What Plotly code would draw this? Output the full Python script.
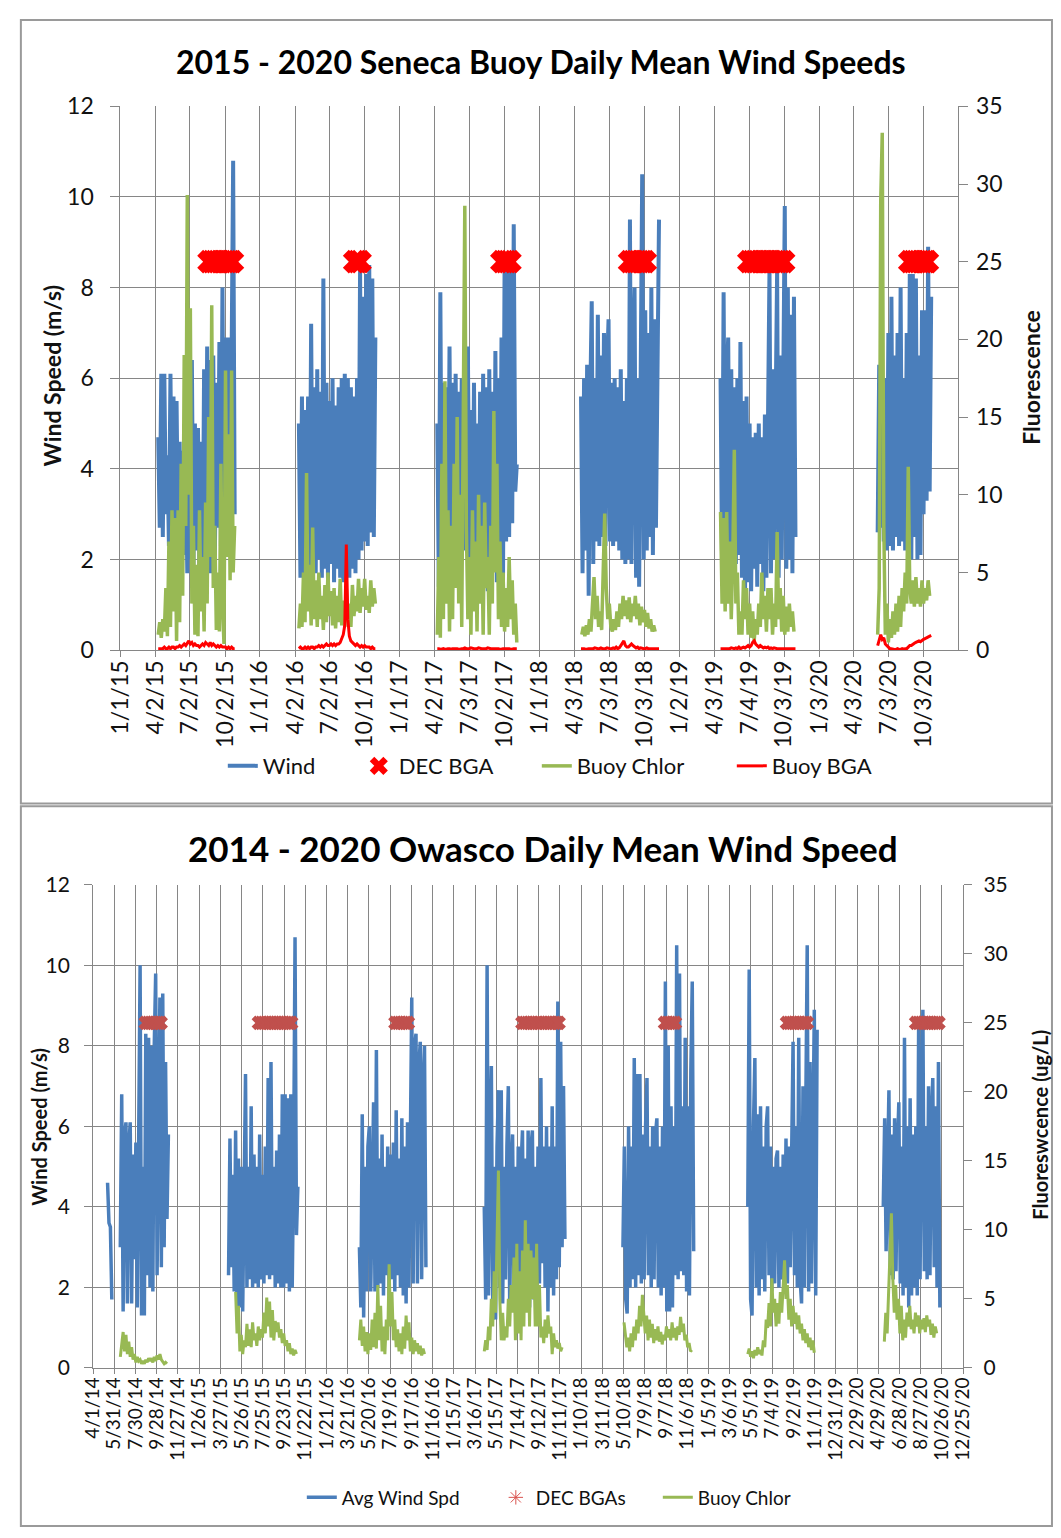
import pandas as pd
import plotly.graph_objects as go

STEP_DAYS = 4  # sampling step of the series below

# ---------------- Seneca (top chart) ----------------
SEN_TICK_LABELS = ['1/1/15', '4/2/15', '7/2/15', '10/2/15', '1/1/16', '4/2/16', '7/2/16', '10/1/16',
                   '1/1/17', '4/2/17', '7/3/17', '10/2/17', '1/1/18', '4/3/18', '7/3/18', '10/3/18',
                   '1/2/19', '4/3/19', '7/4/19', '10/3/19', '1/3/20', '4/3/20', '7/3/20', '10/3/20']

SEN_WIND_2015 = [4.7, 2.7, 6.1, 2.5, 6.1, 3.0, 4.3, 2.3, 6.1, 2.4, 5.6, 2.0, 5.5, 2.3, 4.6, 1.8, 4.4, 2.1,
                 4.4, 1.7, 6.4, 2.0, 6.4, 1.8, 5.0, 2.2, 4.9, 1.6, 4.6, 1.5, 6.2, 1.9, 6.7, 1.7, 6.4, 1.7,
                 6.5, 1.8, 5.9, 2.7, 6.8, 2.3, 8.0, 2.6, 6.9, 2.2, 6.9, 2.8, 6.5, 10.8, 3.0]
SEN_WIND_2016 = [5.0, 1.6, 5.6, 1.7, 5.3, 2.0, 5.6, 1.8, 7.2, 1.9, 5.8, 1.7, 6.2, 2.0, 5.7, 1.6, 8.2, 1.8,
                 5.9, 1.6, 5.5, 1.9, 6.0, 1.5, 5.4, 1.8, 5.8, 1.6, 6.0, 1.5, 6.1, 1.7, 6.0, 1.6, 5.8, 1.8,
                 5.6, 1.7, 6.0, 2.0, 8.4, 2.2, 7.8, 2.4, 8.3, 2.3, 8.5, 2.6, 8.2, 2.5, 6.9]
SEN_WIND_2017 = [5.0, 1.4, 7.9, 1.6, 5.9, 2.6, 5.8, 1.9, 6.7, 2.3, 5.9, 2.5, 6.1, 2.0, 5.7, 2.6, 6.0, 2.2,
                 5.8, 2.4, 6.7, 2.0, 5.3, 1.8, 5.9, 2.1, 5.0, 1.8, 5.7, 2.0, 6.1, 1.6, 5.8, 1.3, 6.2, 2.4,
                 5.7, 1.9, 6.6, 1.5, 6.0, 2.2, 6.9, 1.7, 8.4, 2.4, 8.5, 2.5, 8.6, 2.8, 9.4, 3.5, 4.1]
SEN_WIND_2018 = [5.6, 1.7, 6.0, 2.2, 6.3, 1.2, 5.5, 7.7, 1.9, 6.0, 2.4, 7.4, 2.3, 6.5, 2.5, 7.0, 2.3, 6.2,
                 7.3, 2.4, 5.9, 2.3, 6.0, 2.4, 5.8, 2.2, 6.2, 2.0, 5.5, 1.9, 6.0, 2.0, 9.5, 1.9, 6.5, 8.0,
                 1.6, 6.0, 1.4, 7.0, 10.5, 2.0, 7.5, 2.2, 7.0, 2.5, 8.0, 2.1, 7.3, 2.7, 6.5, 9.5]
SEN_WIND_2019 = [6.0, 1.9, 7.9, 2.2, 6.0, 6.9, 1.8, 6.2, 2.0, 5.8, 1.9, 6.0, 2.1, 6.8, 1.6, 5.5, 1.2, 5.6,
                 1.5, 5.0, 1.3, 4.7, 1.8, 4.8, 1.4, 5.0, 1.9, 4.7, 1.3, 5.2, 1.6, 4.9, 8.4, 1.7, 6.2, 2.0,
                 5.8, 8.4, 1.6, 6.5, 2.0, 7.0, 9.8, 1.8, 8.0, 2.0, 7.4, 1.7, 7.8, 2.5]
SEN_WIND_2020 = [2.6, 6.3, 2.7, 5.0, 2.4, 6.0, 2.2, 7.0, 2.3, 7.8, 2.2, 6.5, 2.5, 7.0, 2.3, 8.0, 2.4, 6.0,
                 2.2, 7.0, 2.3, 8.3, 2.0, 8.3, 2.5, 8.2, 2.0, 6.5, 2.1, 7.5, 3.0, 7.5, 3.3, 8.9, 3.5, 7.8]

SEN_CHLOR_2015 = [1.0, 1.8, 0.8, 2.0, 1.2, 4.0, 0.9, 7.0, 1.5, 9.0, 2.5, 8.5, 0.6, 9.0, 1.8, 12.0, 3.5,
                  19.0, 8.0, 29.3, 10.0, 22.0, 3.0, 8.0, 1.0, 5.5, 0.9, 9.0, 2.5, 6.0, 1.2, 9.5, 3.0, 15.0,
                  6.0, 22.2, 4.0, 8.0, 1.3, 5.0, 1.2, 12.0, 3.0, 0.4, 18.0, 6.0, 13.9, 4.5, 18.0, 5.0, 8.0]
SEN_CHLOR_2016 = [1.4, 3.0, 1.5, 5.0, 1.8, 11.4, 2.5, 5.5, 1.6, 7.9, 2.0, 4.5, 1.5, 5.0, 2.0, 3.5, 1.3,
                  4.2, 1.8, 5.0, 2.2, 3.8, 1.6, 4.0, 1.4, 3.5, 1.8, 4.6, 1.6, 3.2, 1.5, 4.0, 2.0, 3.0, 1.5,
                  4.2, 2.2, 3.5, 2.5, 4.6, 2.4, 4.0, 2.8, 4.6, 2.6, 3.5, 2.4, 4.5, 2.8, 4.0, 3.0]
SEN_CHLOR_2017 = [1.0, 6.0, 0.8, 12.0, 2.0, 17.3, 3.0, 9.0, 1.2, 8.0, 2.0, 12.0, 4.0, 15.0, 3.0, 10.0,
                  1.5, 18.0, 28.6, 8.0, 2.0, 6.0, 1.0, 9.0, 2.5, 7.0, 1.2, 10.0, 3.0, 8.0, 1.0, 9.5, 4.0,
                  6.0, 1.0, 8.0, 3.0, 15.4, 5.0, 12.0, 2.0, 7.0, 1.5, 5.0, 1.2, 4.0, 1.5, 6.0, 2.0, 4.5,
                  1.0, 3.0, 0.5]
SEN_CHLOR_2018 = [1.0, 1.5, 0.9, 1.6, 1.0, 2.0, 1.2, 3.0, 4.7, 2.0, 3.5, 1.5, 2.5, 1.3, 5.0, 8.8, 4.0,
                  2.0, 3.0, 1.5, 1.2, 2.0, 1.3, 2.5, 1.5, 3.0, 2.0, 3.5, 2.2, 3.2, 2.0, 3.4, 1.8, 3.0, 2.2,
                  3.5, 2.0, 3.0, 1.6, 2.8, 1.8, 2.6, 1.5, 2.4, 1.4, 2.0, 1.2, 1.6, 1.2]
SEN_CHLOR_2019 = [8.9, 3.0, 8.5, 2.5, 8.9, 3.0, 7.0, 2.0, 6.0, 12.9, 3.0, 5.0, 1.0, 2.5, 1.0, 4.5, 2.0,
                  4.0, 1.0, 3.0, 0.8, 2.5, 0.6, 2.0, 1.0, 3.0, 1.5, 5.0, 2.0, 3.5, 1.2, 4.0, 2.0, 4.0, 1.0,
                  3.0, 1.5, 7.6, 2.0, 4.0, 1.2, 3.5, 1.0, 2.8, 1.2, 3.0, 1.5, 2.5, 1.2]
SEN_CHLOR_2020 = [1.0, 4.0, 28.9, 33.3, 8.0, 1.0, 3.0, 0.5, 2.0, 0.8, 2.5, 1.0, 3.0, 1.2, 3.5, 1.5, 4.0,
                  2.5, 5.0, 3.0, 11.8, 4.0, 3.0, 4.5, 2.8, 4.7, 3.0, 4.0, 2.8, 4.5, 3.0, 4.0, 3.2, 4.5, 3.5]

SEN_BGA_2015 = [0.1, 0.1, 0.1, 0.1, 0.2, 0.1, 0.1, 0.2, 0.1, 0.2, 0.2, 0.1, 0.2, 0.2, 0.3, 0.2, 0.3, 0.4,
                0.3, 0.5, 0.6, 0.4, 0.5, 0.3, 0.4, 0.3, 0.3, 0.2, 0.3, 0.4, 0.3, 0.5, 0.4, 0.3, 0.5, 0.3,
                0.4, 0.3, 0.2, 0.3, 0.2, 0.3, 0.2, 0.2, 0.2, 0.1, 0.2, 0.1, 0.2, 0.1, 0.1]
SEN_BGA_2016 = [0.1, 0.2, 0.1, 0.1, 0.2, 0.1, 0.2, 0.1, 0.2, 0.2, 0.1, 0.2, 0.2, 0.3, 0.2, 0.3, 0.2, 0.3,
                0.4, 0.3, 0.3, 0.4, 0.3, 0.4, 0.3, 0.4, 0.4, 0.5, 0.7, 1.0, 1.6, 6.8, 2.0, 0.9, 0.6, 0.5,
                0.4, 0.3, 0.4, 0.3, 0.2, 0.3, 0.2, 0.3, 0.2, 0.2, 0.2, 0.1, 0.2, 0.1, 0.1]
SEN_BGA_2017 = [0.1, 0.1, 0.05, 0.1, 0.1, 0.05, 0.1, 0.1, 0.1, 0.05, 0.1, 0.1, 0.1, 0.1, 0.05, 0.1, 0.1,
                0.1, 0.15, 0.1, 0.1, 0.1, 0.15, 0.1, 0.1, 0.1, 0.1, 0.15, 0.1, 0.1, 0.1, 0.1, 0.1, 0.15,
                0.1, 0.1, 0.1, 0.1, 0.1, 0.1, 0.1, 0.05, 0.1, 0.1, 0.1, 0.1, 0.1, 0.1, 0.05, 0.1, 0.1,
                0.1, 0.1]
SEN_BGA_2018 = [0.1, 0.1, 0.1, 0.05, 0.1, 0.1, 0.1, 0.1, 0.1, 0.15, 0.1, 0.1, 0.1, 0.15, 0.1, 0.1, 0.1,
                0.15, 0.1, 0.1, 0.1, 0.15, 0.1, 0.2, 0.1, 0.15, 0.3, 0.5, 0.6, 0.3, 0.2, 0.2, 0.3, 0.4,
                0.3, 0.2, 0.15, 0.2, 0.1, 0.15, 0.1, 0.1, 0.1, 0.15, 0.1, 0.1, 0.1, 0.1, 0.1, 0.1, 0.1, 0.1]
SEN_BGA_2019 = [0.1, 0.1, 0.1, 0.1, 0.1, 0.1, 0.1, 0.15, 0.1, 0.1, 0.15, 0.1, 0.2, 0.1, 0.15, 0.2, 0.15,
                0.2, 0.3, 0.2, 0.3, 0.5, 0.6, 0.4, 0.3, 0.2, 0.3, 0.2, 0.15, 0.2, 0.15, 0.2, 0.1, 0.15,
                0.1, 0.15, 0.1, 0.1, 0.1, 0.1, 0.1, 0.1, 0.1, 0.1, 0.1, 0.1, 0.1, 0.1, 0.1, 0.1]
SEN_BGA_2020 = [0.3, 0.6, 1.0, 0.7, 0.8, 0.4, 0.3, 0.2, 0.1, 0.1, 0.05, 0.05, 0.05, 0.1, 0.05, 0.05, 0.1,
                0.05, 0.1, 0.1, 0.2, 0.3, 0.3, 0.4, 0.45, 0.5, 0.55, 0.6, 0.55, 0.65, 0.7, 0.75, 0.8,
                0.85, 0.9, 0.95]

SEN_WIND_SEASONS = [("2015-04-10", SEN_WIND_2015), ("2016-04-12", SEN_WIND_2016), ("2017-04-09", SEN_WIND_2017),
                    ("2018-04-20", SEN_WIND_2018), ("2019-04-20", SEN_WIND_2019), ("2020-06-04", SEN_WIND_2020)]
SEN_CHLOR_SEASONS = [("2015-04-10", SEN_CHLOR_2015), ("2016-04-12", SEN_CHLOR_2016), ("2017-04-09", SEN_CHLOR_2017),
                     ("2018-04-22", SEN_CHLOR_2018), ("2019-04-20", SEN_CHLOR_2019), ("2020-06-04", SEN_CHLOR_2020)]
SEN_BGA_SEASONS = [("2015-04-10", SEN_BGA_2015), ("2016-04-12", SEN_BGA_2016), ("2017-04-09", SEN_BGA_2017),
                   ("2018-04-20", SEN_BGA_2018), ("2019-04-20", SEN_BGA_2019), ("2020-06-04", SEN_BGA_2020)]

SEN_DEC_DATES = ['2015-08-21', '2015-08-28', '2015-09-04', '2015-09-11', '2015-09-18', '2015-09-25',
                 '2015-10-02', '2015-10-09', '2015-10-16', '2015-10-21',
                 '2016-09-05', '2016-09-12', '2016-09-19',
                 '2017-09-25', '2017-10-02', '2017-10-09', '2017-10-16',
                 '2018-08-25', '2018-09-01', '2018-09-08', '2018-09-15', '2018-09-22', '2018-09-29', '2018-10-05',
                 '2019-07-03', '2019-07-10', '2019-07-17', '2019-07-24', '2019-07-31', '2019-08-07', '2019-08-14',
                 '2019-08-21', '2019-08-28', '2019-09-04', '2019-09-11', '2019-09-18', '2019-09-25', '2019-10-02',
                 '2020-08-27', '2020-09-03', '2020-09-10', '2020-09-17', '2020-09-24', '2020-10-01', '2020-10-08',
                 '2020-10-12']
SEN_DEC_VALUES = [25, 25, 25, 25, 25, 25, 25, 25, 25, 25,
                  25, 25, 25,
                  25, 25, 25, 25,
                  25, 25, 25, 25, 25, 25, 25,
                  25, 25, 25, 25, 25, 25, 25, 25, 25, 25, 25, 25, 25, 25,
                  25, 25, 25, 25, 25, 25, 25, 25]

# ---------------- Owasco (bottom chart) ----------------
OWA_TICK_LABELS = ['4/1/14', '5/31/14', '7/30/14', '9/28/14', '11/27/14', '1/26/15', '3/27/15', '5/26/15',
                   '7/25/15', '9/23/15', '11/22/15', '1/21/16', '3/21/16', '5/20/16', '7/19/16', '9/17/16',
                   '11/16/16', '1/15/17', '3/16/17', '5/15/17', '7/14/17', '9/12/17', '11/11/17', '1/10/18',
                   '3/11/18', '5/10/18', '7/9/18', '9/7/18', '11/6/18', '1/5/19', '3/6/19', '5/5/19',
                   '7/4/19', '9/2/19', '11/1/19', '12/31/19', '2/29/20', '4/29/20', '6/28/20', '8/27/20',
                   '10/26/20', '12/25/20']

OWA_WIND_2014A = [4.6, 3.6, 3.5, 1.7]
OWA_WIND_2014 = [3.0, 6.8, 1.4, 5.8, 6.1, 1.6, 5.5, 6.1, 1.6, 5.3, 2.7, 5.6, 1.5, 5.5, 10.0, 1.3, 5.0, 1.3,
                 8.3, 2.3, 8.2, 2.0, 8.0, 1.9, 8.0, 9.8, 2.3, 6.0, 9.2, 2.5, 9.3, 3.0, 7.6, 3.7, 5.8]
OWA_WIND_2015 = [2.3, 5.7, 2.5, 4.8, 1.9, 5.9, 1.4, 5.2, 1.5, 5.0, 1.4, 5.5, 7.3, 2.0, 5.0, 2.2, 6.5, 2.0,
                 5.3, 2.1, 5.0, 2.0, 5.8, 2.2, 4.8, 2.1, 5.5, 2.3, 7.2, 2.2, 7.6, 2.3, 5.0, 2.0, 5.4, 2.1,
                 5.8, 2.0, 6.8, 2.0, 6.8, 2.1, 6.7, 1.9, 6.8, 2.0, 5.0, 10.7, 3.3, 4.5]
OWA_WIND_2016 = [3.0, 1.5, 6.3, 1.25, 5.0, 1.9, 5.5, 6.0, 1.9, 5.0, 6.6, 1.9, 7.9, 2.0, 5.2, 2.1, 5.8, 1.8,
                 5.0, 2.3, 5.5, 1.8, 5.3, 2.2, 5.6, 1.9, 6.4, 2.3, 5.2, 2.0, 6.2, 1.8, 5.5, 1.6, 6.1, 2.0,
                 5.4, 9.2, 2.1, 8.0, 8.3, 2.1, 7.5, 8.1, 2.2, 7.0, 8.0, 2.5]
OWA_WIND_2017 = [4.0, 1.7, 10.0, 1.8, 5.5, 7.5, 1.5, 5.0, 1.2, 5.5, 6.9, 2.0, 6.9, 1.6, 5.0, 2.2, 5.5, 7.0,
                 1.4, 5.0, 5.8, 1.8, 5.0, 1.6, 5.5, 1.5, 5.0, 5.9, 1.5, 5.2, 1.6, 5.9, 1.5, 5.5, 5.9, 1.7,
                 5.0, 2.2, 5.5, 2.1, 7.2, 2.6, 5.5, 2.0, 6.0, 1.4, 5.5, 2.0, 6.5, 1.8, 5.5, 2.2, 9.1, 2.5,
                 8.1, 3.0, 7.0, 3.2]
OWA_WIND_2018 = [3.0, 5.5, 1.7, 1.35, 6.0, 2.0, 5.5, 2.2, 7.7, 2.0, 7.3, 2.3, 7.3, 2.1, 5.8, 2.2, 6.0, 7.2,
                 2.3, 5.5, 2.0, 6.0, 2.2, 5.8, 6.2, 2.0, 5.5, 1.8, 6.0, 2.0, 9.6, 1.4, 8.0, 1.4, 6.5, 1.5,
                 6.0, 2.3, 10.5, 2.2, 9.8, 2.4, 6.5, 2.3, 8.2, 1.9, 6.5, 1.8, 7.4, 9.6, 2.9]
OWA_WIND_2019 = [4.0, 9.9, 1.7, 1.3, 6.0, 7.7, 2.0, 6.3, 1.8, 6.5, 2.2, 5.5, 1.9, 6.0, 6.5, 2.3, 5.5, 1.9,
                 5.0, 2.1, 5.2, 5.4, 2.0, 5.0, 2.2, 5.3, 2.4, 5.7, 2.1, 5.5, 2.5, 5.2, 8.1, 2.3, 6.0, 2.0,
                 8.2, 2.2, 1.6, 7.0, 2.0, 6.5, 10.5, 1.9, 7.6, 2.1, 6.5, 8.9, 1.8, 8.4]
OWA_WIND_2020 = [4.0, 6.2, 2.9, 5.5, 6.9, 2.3, 5.8, 2.2, 6.2, 2.4, 5.5, 6.6, 2.1, 5.5, 1.8, 8.2, 2.0, 6.0,
                 1.5, 6.7, 1.8, 5.8, 2.0, 6.0, 1.8, 8.5, 2.2, 6.5, 8.9, 2.4, 6.0, 2.2, 7.0, 2.3, 6.2, 7.2,
                 2.5, 6.5, 2.0, 7.6, 1.5]

OWA_CHLOR_2014 = [0.8, 2.0, 2.6, 1.2, 2.4, 1.0, 1.9, 0.8, 1.5, 0.6, 1.0, 0.4, 0.8, 0.5, 0.6, 0.3, 0.5, 0.3,
                  0.6, 0.4, 0.7, 0.5, 0.7, 0.4, 0.8, 0.5, 0.9, 0.6, 1.0, 0.6, 0.4, 0.3, 0.4, 0.3]
OWA_CHLOR_2015 = [5.5, 2.5, 4.5, 1.2, 2.4, 1.0, 2.0, 1.5, 3.2, 1.6, 2.8, 1.5, 3.3, 2.0, 2.5, 1.6, 3.0, 2.0,
                  2.8, 2.2, 4.0, 2.5, 5.1, 3.0, 4.8, 2.2, 4.2, 2.0, 3.4, 2.6, 3.3, 2.2, 2.8, 1.8, 2.5, 1.6,
                  2.0, 1.2, 1.8, 1.0, 1.4, 0.9, 1.3, 1.0]
OWA_CHLOR_2016 = [2.0, 3.5, 1.6, 3.0, 1.2, 2.6, 1.0, 2.5, 1.3, 3.5, 1.5, 4.0, 1.4, 6.0, 2.0, 4.5, 1.2, 3.0,
                  1.0, 3.5, 2.0, 7.5, 3.0, 5.5, 2.0, 3.5, 1.5, 2.8, 1.2, 2.5, 1.0, 3.0, 1.4, 3.8, 2.0, 3.3,
                  1.2, 2.2, 1.0, 2.0, 1.2, 1.8, 1.0, 1.6, 0.9, 1.4, 1.0]
OWA_CHLOR_2017 = [1.2, 2.0, 1.3, 3.0, 2.0, 5.0, 3.0, 7.0, 4.0, 10.0, 14.3, 5.0, 2.0, 4.0, 2.0, 3.0, 2.2, 5.0,
                  3.0, 6.0, 4.0, 8.0, 2.0, 9.0, 2.5, 7.0, 2.0, 8.5, 3.0, 10.7, 4.0, 9.0, 3.0, 8.5, 5.0, 8.0,
                  3.0, 9.0, 3.0, 6.0, 2.2, 3.0, 1.8, 3.5, 2.2, 3.8, 2.5, 3.0, 1.0, 2.5, 1.5, 2.0, 1.4, 1.8,
                  1.2, 1.5]
OWA_CHLOR_2018 = [3.3, 2.5, 1.5, 2.2, 1.2, 2.5, 1.5, 3.0, 2.0, 3.5, 2.5, 4.5, 3.0, 5.3, 3.5, 2.5, 3.8, 2.0,
                  3.5, 2.2, 3.2, 1.8, 2.8, 2.0, 3.0, 1.9, 2.6, 1.7, 2.4, 2.0, 3.0, 2.2, 2.8, 2.0, 3.3, 2.2,
                  2.9, 2.0, 3.0, 2.4, 3.7, 2.6, 3.2, 2.0, 2.4, 1.5, 1.8, 1.2, 1.3]
OWA_CHLOR_2019 = [1.0, 1.4, 0.8, 1.2, 0.7, 1.3, 0.9, 1.5, 1.0, 1.3, 0.9, 2.0, 1.5, 3.5, 2.9, 4.7, 3.0, 6.5,
                  4.0, 5.0, 3.0, 4.7, 3.2, 5.5, 4.0, 6.0, 7.8, 5.0, 6.0, 3.5, 5.0, 3.0, 4.5, 3.2, 4.0, 2.8,
                  3.8, 2.5, 3.2, 2.0, 2.8, 1.8, 2.5, 1.5, 2.2, 1.3, 2.0, 1.1]
OWA_CHLOR_2020 = [1.9, 4.0, 2.5, 6.0, 9.0, 11.2, 6.5, 4.0, 6.0, 3.5, 5.0, 2.5, 4.5, 2.0, 3.5, 2.2, 4.0, 3.0,
                  4.5, 2.8, 3.5, 2.5, 4.0, 3.0, 3.8, 2.5, 3.5, 2.8, 3.6, 2.6, 3.8, 3.0, 3.5, 2.4, 3.2, 2.2,
                  3.0, 2.5]

OWA_WIND_SEASONS = [("2014-05-12", OWA_WIND_2014A), ("2014-06-17", OWA_WIND_2014), ("2015-04-19", OWA_WIND_2015),
                    ("2016-04-23", OWA_WIND_2016), ("2017-04-11", OWA_WIND_2017), ("2018-05-08", OWA_WIND_2018),
                    ("2019-04-26", OWA_WIND_2019), ("2020-05-13", OWA_WIND_2020)]
OWA_CHLOR_SEASONS = [("2014-06-17", OWA_CHLOR_2014), ("2015-05-09", OWA_CHLOR_2015), ("2016-04-23", OWA_CHLOR_2016),
                     ("2017-04-11", OWA_CHLOR_2017), ("2018-05-11", OWA_CHLOR_2018), ("2019-04-26", OWA_CHLOR_2019),
                     ("2020-05-16", OWA_CHLOR_2020)]

OWA_DEC_DATES = ['2014-08-28', '2014-09-04', '2014-09-11', '2014-09-18', '2014-09-25', '2014-10-02', '2014-10-09',
                 '2015-07-14', '2015-07-21', '2015-07-28', '2015-08-04', '2015-08-11', '2015-08-18', '2015-08-25',
                 '2015-09-01', '2015-09-08', '2015-09-15', '2015-09-22', '2015-09-29', '2015-10-06', '2015-10-13',
                 '2016-08-03', '2016-08-10', '2016-08-17', '2016-08-24', '2016-08-31', '2016-09-07',
                 '2017-07-28', '2017-08-04', '2017-08-11', '2017-08-18', '2017-08-25', '2017-09-01', '2017-09-08',
                 '2017-09-15', '2017-09-22', '2017-09-29', '2017-10-06', '2017-10-13', '2017-10-20', '2017-10-27',
                 '2017-11-03', '2017-11-07',
                 '2018-09-04', '2018-09-11', '2018-09-18', '2018-09-25', '2018-10-02',
                 '2019-08-15', '2019-08-22', '2019-08-29', '2019-09-05', '2019-09-12', '2019-09-19', '2019-09-26',
                 '2019-10-03', '2019-10-10',
                 '2020-08-14', '2020-08-21', '2020-08-28', '2020-09-04', '2020-09-11', '2020-09-18', '2020-09-25',
                 '2020-10-02', '2020-10-09', '2020-10-16']
OWA_DEC_VALUES = [25, 25, 25, 25, 25, 25, 25,
                  25, 25, 25, 25, 25, 25, 25, 25, 25, 25, 25, 25, 25, 25,
                  25, 25, 25, 25, 25, 25,
                  25, 25, 25, 25, 25, 25, 25, 25, 25, 25, 25, 25, 25, 25, 25, 25,
                  25, 25, 25, 25, 25,
                  25, 25, 25, 25, 25, 25, 25, 25, 25,
                  25, 25, 25, 25, 25, 25, 25, 25, 25, 25]

# ---------------- helpers ----------------
def join_seasons(seasons):
    xs, ys = [], []
    for start, vals in seasons:
        dates = pd.date_range(start, periods=len(vals), freq=f"{STEP_DAYS}D")
        xs.extend(dates)
        ys.extend(vals)
        xs.append(dates[-1] + pd.Timedelta(days=1))
        ys.append(None)
    return xs, ys


def tick_dates(labels):
    return [pd.to_datetime(t, format="%m/%d/%y") for t in labels]


W, H = 1061, 1538
def px(x):
    return x / W
def py(y):
    return (H - y) / H

BLUE = "#4A7EBB"
GREEN = "#98B954"
RED = "#FF0000"
DRED = "#C0504D"
GRID = "#868686"
TXT = "#111111"
FONT = "Lato"

fig = go.Figure()

# top traces
x, y = join_seasons(SEN_WIND_SEASONS)
fig.add_trace(go.Scatter(x=x, y=y, mode="lines", name="Wind", line=dict(color=BLUE, width=4),
                         xaxis="x", yaxis="y", legend="legend", legendwidth=91))
fig.add_trace(go.Scatter(x=pd.to_datetime(SEN_DEC_DATES), y=SEN_DEC_VALUES, mode="markers", name="DEC BGA",
                         marker=dict(symbol="x", size=21, color=RED, line=dict(width=0)),
                         xaxis="x", yaxis="y2", legend="legend", legendwidth=133))
x, y = join_seasons(SEN_CHLOR_SEASONS)
fig.add_trace(go.Scatter(x=x, y=y, mode="lines", name="Buoy Chlor", line=dict(color=GREEN, width=3.5),
                         xaxis="x", yaxis="y2", legend="legend", legendwidth=150))
x, y = join_seasons(SEN_BGA_SEASONS)
fig.add_trace(go.Scatter(x=x, y=y, mode="lines", name="Buoy BGA", line=dict(color=RED, width=3),
                         xaxis="x", yaxis="y2", legend="legend", legendwidth=120))

# bottom traces
x, y = join_seasons(OWA_WIND_SEASONS)
fig.add_trace(go.Scatter(x=x, y=y, mode="lines", name="Avg Wind Spd", line=dict(color=BLUE, width=3.5),
                         xaxis="x2", yaxis="y3", legend="legend2", legendwidth=149))
fig.add_trace(go.Scatter(x=pd.to_datetime(OWA_DEC_DATES), y=OWA_DEC_VALUES, mode="markers", name="DEC BGAs",
                         marker=dict(symbol="x", size=13, color=DRED, line=dict(width=0)),
                         xaxis="x2", yaxis="y4", showlegend=False))
fig.add_trace(go.Scatter(x=[None], y=[None], mode="markers", name="DEC BGAs",
                         marker=dict(symbol="asterisk-open", size=12, color="#D9534F",
                                     line=dict(width=1, color="#D9534F")),
                         xaxis="x2", yaxis="y4", legend="legend2", legendwidth=117))
x, y = join_seasons(OWA_CHLOR_SEASONS)
fig.add_trace(go.Scatter(x=x, y=y, mode="lines", name="Buoy Chlor", line=dict(color=GREEN, width=3),
                         xaxis="x2", yaxis="y4", legend="legend2", legendwidth=110))

common_axis = dict(showline=True, linecolor=GRID, linewidth=1, ticks="outside", tickcolor=GRID,
                   zeroline=False)

fig.update_layout(
    width=W, height=H, margin=dict(l=0, r=0, t=0, b=0),
    paper_bgcolor="white", plot_bgcolor="white",
    font=dict(family=FONT, color=TXT),
    xaxis=dict(domain=[px(107), px(966)], anchor="y", type="date",
               range=["2015-01-01", "2021-01-01"],
               tickmode="array", tickvals=tick_dates(SEN_TICK_LABELS), ticktext=SEN_TICK_LABELS,
               tickangle=-90, tickfont=dict(size=23, family=FONT, color=TXT), ticklen=6,
               ticklabelstandoff=-6,
               showgrid=True, gridcolor=GRID, gridwidth=1, **common_axis),
    yaxis=dict(domain=[py(647), py(93)], anchor="x", range=[0, 12], dtick=2,
               tickfont=dict(size=23, family=FONT, color=TXT), ticklen=9, ticklabelstandoff=12,
               showgrid=True, gridcolor=GRID, gridwidth=1, **common_axis),
    yaxis2=dict(overlaying="y", side="right", anchor="x", range=[0, 35], dtick=5,
                tickfont=dict(size=23, family=FONT, color=TXT), ticklen=9, ticklabelstandoff=3,
                showgrid=False, **common_axis),
    xaxis2=dict(domain=[px(79), px(971)], anchor="y3", type="date",
                range=["2014-04-01", "2020-12-25"],
                tickmode="array", tickvals=tick_dates(OWA_TICK_LABELS), ticktext=OWA_TICK_LABELS,
                tickangle=-90, tickfont=dict(size=19, family=FONT, color=TXT), ticklen=5,
                ticklabelstandoff=-4,
                showgrid=True, gridcolor=GRID, gridwidth=1, **common_axis),
    yaxis3=dict(domain=[py(1378), py(886)], anchor="x2", range=[0, 12], dtick=2,
                tickfont=dict(size=21, family=FONT, color=TXT), ticklen=8, ticklabelstandoff=10,
                showgrid=True, gridcolor=GRID, gridwidth=1, **common_axis),
    yaxis4=dict(overlaying="y3", side="right", anchor="x2", range=[0, 35], dtick=5,
                tickfont=dict(size=21, family=FONT, color=TXT), ticklen=8, ticklabelstandoff=7,
                showgrid=False, **common_axis),
    legend=dict(orientation="h", x=px(212), xanchor="left", y=py(765), yanchor="middle",
                font=dict(size=22, family=FONT, color=TXT), bgcolor="rgba(0,0,0,0)"),
    legend2=dict(orientation="h", x=px(293), xanchor="left", y=py(1510), yanchor="middle",
                 font=dict(size=19, family=FONT, color=TXT), bgcolor="rgba(0,0,0,0)"),
    showlegend=True,
)

annotations = [
    dict(text="<b>2015 - 2020 Seneca Buoy Daily Mean Wind Speeds</b>", x=px(538), y=py(47),
         font=dict(size=32, family=FONT, color="#000")),
    dict(text="<b>2014 - 2020 Owasco Daily Mean Wind Speed</b>", x=px(540), y=py(848),
         font=dict(size=35, family=FONT, color="#000")),
    dict(text="<b>Wind Speed (m/s)</b>", x=px(37), y=py(368), textangle=-90,
         font=dict(size=23, family=FONT, color=TXT)),
    dict(text="<b>Fluorescence</b>", x=px(1041), y=py(369), textangle=-90,
         font=dict(size=23, family=FONT, color=TXT)),
    dict(text="<b>Wind Speed (m/s)</b>", x=px(24), y=py(1132), textangle=-90,
         font=dict(size=20, family=FONT, color=TXT)),
    dict(text="<b>Fluoreswcence (ug/L)</b>", x=px(1050), y=py(1130), textangle=-90,
         font=dict(size=20, family=FONT, color=TXT)),
]
for a in annotations:
    a.update(xref="paper", yref="paper", showarrow=False, xanchor="center", yanchor="middle")
fig.update_layout(annotations=annotations)

fig.update_layout(shapes=[
    dict(type="rect", xref="paper", yref="paper", x0=px(5), x1=px(1062), y0=py(803), y1=py(5),
         line=dict(color="#9A9A9A", width=2), layer="below"),
    dict(type="rect", xref="paper", yref="paper", x0=px(5), x1=px(1062), y0=py(1539), y1=py(806),
         line=dict(color="#9A9A9A", width=2), layer="below"),
])

fig.write_html("out.html")
